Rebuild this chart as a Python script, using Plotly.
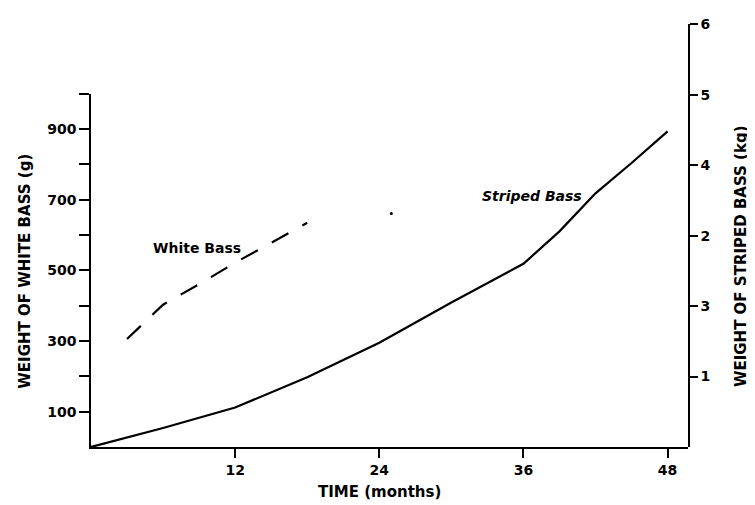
import plotly.graph_objects as go

# Striped bass (kg, right axis)
striped_months = [0, 6, 12, 18, 24, 30, 36, 39, 42, 45, 48]
striped_kg = [0, 0.27, 0.56, 0.99, 1.48, 2.05, 2.60, 3.06, 3.60, 4.03, 4.48]

# White bass (g, left axis)
white_months = [3, 6, 9, 12, 15, 18]
white_g = [306, 403, 461, 522, 578, 635]
white_extra_month = [25]
white_extra_g = [661]

x_ticks = [12, 24, 36, 48]
left_tickvals = [100, 200, 300, 400, 500, 600, 700, 800, 900, 1000]
left_ticktext = ["100", "", "300", "", "500", "", "700", "", "900", ""]
right_tickvals = [1, 2, 3, 4, 5, 6]
right_ticktext = ["1", "3", "2", "4", "5", "6"]

FONT = "DejaVu Sans"
tickfont = dict(family=FONT, size=14, color="black", weight="bold")

fig = go.Figure()
fig.add_trace(go.Scatter(x=white_months, y=white_g, mode="lines", yaxis="y",
                         line=dict(color="black", width=2.2, dash="19px,16px"),
                         name="White Bass"))
fig.add_trace(go.Scatter(x=white_extra_month, y=white_extra_g, mode="markers", yaxis="y",
                         marker=dict(color="black", size=3), name="White Bass point"))
fig.add_trace(go.Scatter(x=striped_months, y=striped_kg, mode="lines", yaxis="y2",
                         line=dict(color="black", width=2.2), name="Striped Bass"))

fig.update_layout(
    width=747, height=497,
    margin=dict(l=83, r=67, t=8, b=58),
    paper_bgcolor="white", plot_bgcolor="rgba(0,0,0,0)",
    showlegend=False,
    xaxis=dict(range=[0, 49.7], tickvals=x_ticks, ticks="outside", ticklen=9,
               tickwidth=1.5, tickcolor="black", showline=True, linecolor="black",
               linewidth=1.5, showgrid=False, zeroline=False, tickfont=tickfont,
               anchor="y"),
    yaxis=dict(range=[0, 1000.5], domain=[0, 360 / 431], tickvals=left_tickvals,
               ticktext=left_ticktext, ticks="outside", ticklen=10, tickwidth=1.5,
               tickcolor="black", showline=True, linecolor="black", linewidth=1.5,
               showgrid=False, zeroline=False, tickfont=tickfont, anchor="x"),
    yaxis2=dict(range=[0, 6.003], domain=[0, 1], side="right", anchor="x",
                tickvals=right_tickvals, ticktext=right_ticktext, ticks="outside",
                ticklen=8, tickwidth=1.5, tickcolor="black", showline=True,
                linecolor="black", linewidth=1.5, showgrid=False, zeroline=False,
                tickfont=tickfont, ticklabeloverflow="allow"),
    annotations=[
        dict(text="WEIGHT OF WHITE BASS (g)", xref="paper", yref="paper",
             x=-0.1106, y=0.4167, textangle=-90, showarrow=False,
             xanchor="center", yanchor="middle",
             font=dict(family=FONT, size=15, color="black", weight="bold")),
        dict(text="WEIGHT OF STRIPED BASS (kg)", xref="paper", yref="paper",
             x=1.0888, y=0.4514, textangle=-90, showarrow=False,
             xanchor="center", yanchor="middle",
             font=dict(family=FONT, size=15, color="black", weight="bold")),
        dict(text="TIME (months)", xref="paper", yref="paper",
             x=0.484, y=-0.1065, showarrow=False, xanchor="center", yanchor="middle",
             font=dict(family=FONT, size=15, color="black", weight="bold")),
        dict(text="White Bass", xref="x", yref="y", x=8.8, y=564, showarrow=False,
             xanchor="center", yanchor="middle",
             font=dict(family=FONT, size=14, color="black", weight="bold")),
        dict(text="Striped Bass", xref="x", yref="y2", x=36.7, y=3.56, showarrow=False,
             xanchor="center", yanchor="middle",
             font=dict(family=FONT, size=14, color="black", weight="bold",
                       style="italic")),
    ],
)

fig.write_html("out.html")
